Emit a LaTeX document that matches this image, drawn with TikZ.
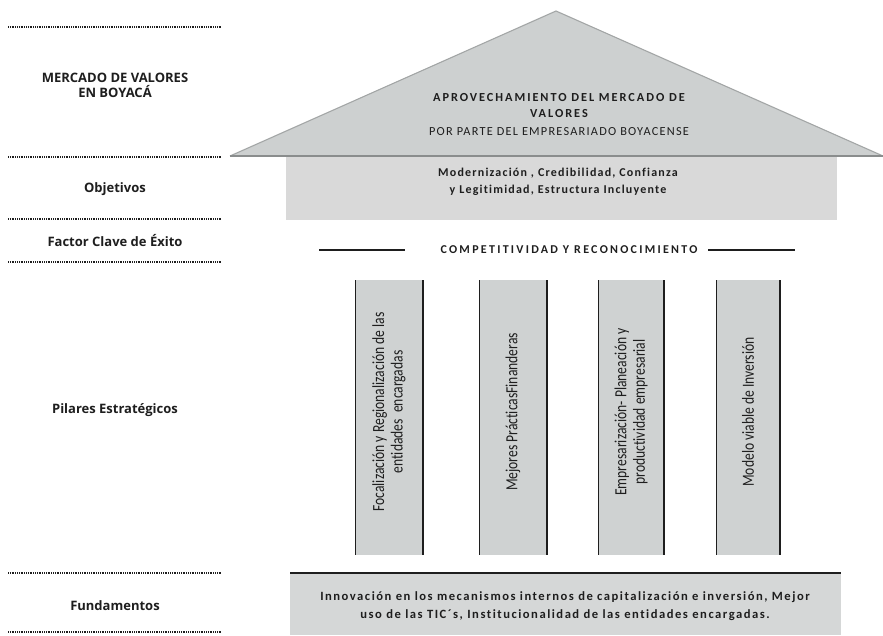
\documentclass[tikz,border=0pt]{standalone}
\usepackage{fontspec}
\setmainfont{Carlito}
\newfontfamily\lbl{Open Sans}
\newfontfamily\narrow[FakeStretch=0.8,Ligatures=NoCommon]{Carlito}
\newfontfamily\spaced[Ligatures=NoCommon]{Carlito}
\definecolor{roof}{HTML}{CDD0D0}
\definecolor{roofedge}{HTML}{A3A6A6}
\definecolor{objfill}{HTML}{D9D9D9}
\definecolor{pilfill}{HTML}{CFD2D2}
\definecolor{fundfill}{HTML}{D5D7D7}
\definecolor{ink}{HTML}{1E1E1E}
\tikzset{
  sep/.style={line width=1.8pt, dash pattern=on 1pt off 0.8pt, color=ink},
  sidelabel/.style={font=\lbl\bfseries\fontsize{13}{15}\selectfont, align=center, text=ink},
  pillar/.style={fill=pilfill, draw=none},
  piltext/.style={rotate=90, font=\narrow\fontsize{17}{18.5}\selectfont, align=center, text=ink},
}
\begin{document}
\begin{tikzpicture}[x=1pt,y=-1pt]
\useasboundingbox (0,0) rectangle (883,635);
% left separators
\foreach \yy in {27,157,219,262,573,632}{\draw[sep] (8,\yy) -- (221,\yy);}
\node[sidelabel] (lmercado) at (115,85) {MERCADO DE VALORES\\EN BOYACÁ};
\node[sidelabel] (lobj) at (115,189) {Objetivos};
\node[sidelabel] (lfactor) at (115,241) {Factor Clave de Éxito};
\node[sidelabel] (lpil) at (115,410) {Pilares Estratégicos};
\node[sidelabel] (lfund) at (115,606) {Fundamentos};
% roof
\coordinate (apex) at (556,11);
\coordinate (bl) at (230,156);
\coordinate (br) at (883,156);
\fill[objfill] (286,157) rectangle (837,220);
\fill[roof] (apex) -- (br) -- (bl) -- cycle;
\draw[roofedge, line width=1.1pt] (bl) -- (apex) -- (br);
\draw[roofedge!85!black, line width=1.6pt] (bl) -- (br);
\node[font=\spaced\addfontfeature{LetterSpace=16}\bfseries\fontsize{12.3}{16}\selectfont, align=center, text=ink] (roofA) at (559,106) {APROVECHAMIENTO DEL MERCADO DE\\VALORES};
\node[font=\spaced\addfontfeature{LetterSpace=10}\fontsize{12.3}{14}\selectfont, text=ink] (roofC) at (559,132) {POR PARTE DEL EMPRESARIADO BOYACENSE};
\node[font=\spaced\addfontfeature{LetterSpace=10}\bfseries\fontsize{12}{17}\selectfont, align=center, text=ink] (obj) at (558,182) {Modernización , Credibilidad, Confianza\\y Legitimidad, Estructura Incluyente};
% factor
\node[font=\spaced\addfontfeature{LetterSpace=19}\bfseries\fontsize{12}{13}\selectfont, text=ink] (comp) at (569,250) {COMPETITIVIDAD Y RECONOCIMIENTO};
\coordinate (cl1) at (319,250); \coordinate (cl2) at (405,250);
\coordinate (cr1) at (708,250); \coordinate (cr2) at (795,250);
\draw[ink, line width=1.1pt] (cl1) -- (cl2);
\draw[ink, line width=1.1pt] (cr1) -- (cr2);
% pillars
\foreach \xa/\xb/\nm in {355/423/p1,479/547/p2,598/664/p3,716/780/p4}{
  \fill[pilfill] (\xa,280) rectangle (\xb,555);
  \draw[ink, line width=1pt] (\xa,280) -- (\xa,555);
  \draw[ink, line width=2pt] (\xb,280) -- (\xb,555);
  \coordinate (\nm) at ({(\xa+\xb)/2},412);
}
\node[piltext] (t1) at (p1) {Focalización y Regionalización de las\\entidades\ \ encargadas};
\node[piltext] (t2) at (p2) {Mejores PrácticasFinanderas};
\node[piltext] (t3) at (p3) {Empresarización- Planeación y\\productividad empresarial};
\node[piltext] (t4) at (p4) {Modelo viable de Inversión};
% foundation
\fill[fundfill] (290,573) rectangle (841,635);
\draw[ink, line width=1.6pt] (290,573) -- (841,573);
\node[font=\spaced\addfontfeature{LetterSpace=12}\bfseries\fontsize{12.6}{18}\selectfont, align=center, text=ink] (fund) at (565,606) {Innovación en los mecanismos internos de capitalización e inversión, Mejor\\uso de las TIC´s, Institucionalidad de las entidades encargadas.};
\end{tikzpicture}
\end{document}
